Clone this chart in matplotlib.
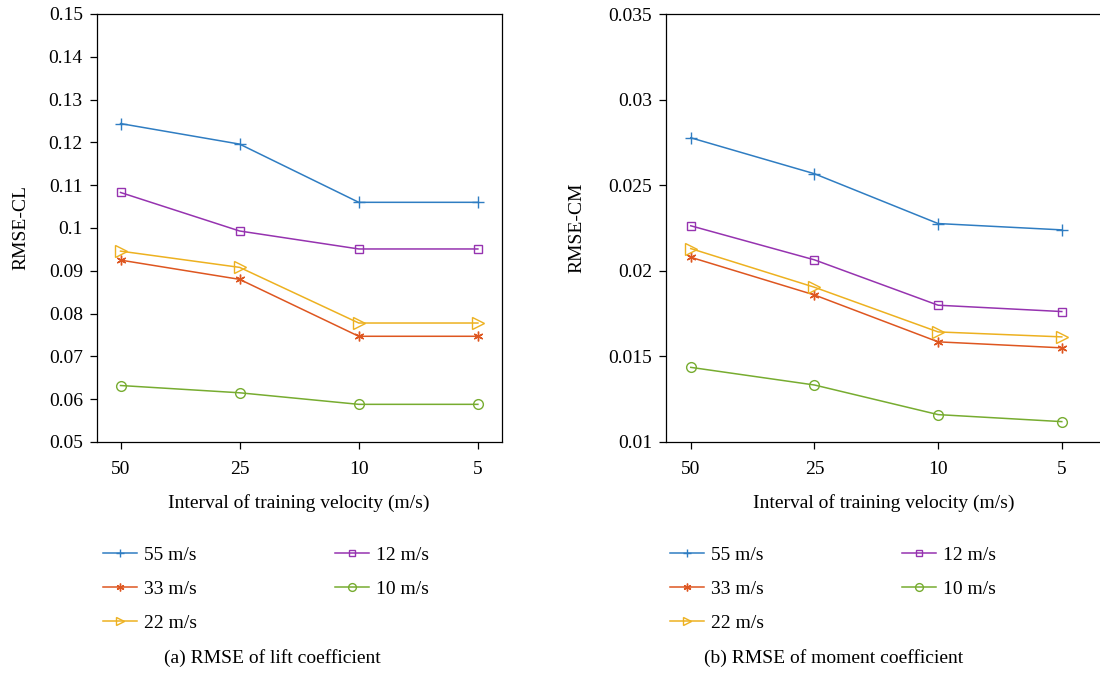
import numpy as np
import matplotlib
matplotlib.use('Agg')
import matplotlib.pyplot as plt

plt.rcParams['font.family'] = ['Liberation Serif', 'DejaVu Serif']
plt.rcParams['font.size'] = 14

# x categories (interval of training velocity, m/s)
intervals = ['50', '25', '10', '5']

# RMSE of lift coefficient
cl_55 = [0.1244, 0.1196, 0.1060, 0.1060]
cl_33 = [0.0925, 0.0880, 0.0747, 0.0747]
cl_22 = [0.0946, 0.0908, 0.0778, 0.0778]
cl_12 = [0.1083, 0.0993, 0.0951, 0.0951]
cl_10 = [0.0632, 0.0615, 0.0588, 0.0588]

# RMSE of moment coefficient
cm_55 = [0.02777, 0.02567, 0.02276, 0.02239]
cm_33 = [0.02079, 0.01859, 0.01585, 0.01550]
cm_22 = [0.02130, 0.01904, 0.01643, 0.01614]
cm_12 = [0.02263, 0.02064, 0.01799, 0.01762]
cm_10 = [0.01436, 0.01333, 0.01160, 0.01119]

labels = ['55 m/s', '33 m/s', '22 m/s', '12 m/s', '10 m/s']
colors = ['#2F7DC2', '#DE5620', '#EDB120', '#9633B0', '#77AC30']
markers = ['+', (6, 2, 0), '>', 's', 'o']
msizes = [8, 7, 8, 6, 7]

fig = plt.figure(figsize=(11, 6.74), dpi=100)
W, H = 1100, 674

def px_axes(x0, x1, top, bottom):
    return fig.add_axes([x0 / W, 1 - bottom / H, (x1 - x0) / W, (bottom - top) / H])

ax1 = px_axes(96.7, 501.7, 14, 442)
ax2 = px_axes(666, 1101, 14, 442)

x = np.arange(len(intervals))

def draw(ax, series, ylim, yticks, yticklabels, ylabel, xlim, ylabel_x):
    handles = []
    for s, lab, c, m, ms in zip(series, labels, colors, markers, msizes):
        h, = ax.plot(x, s, color=c, marker=m, markersize=ms, markerfacecolor='none',
                     markeredgecolor=c, markeredgewidth=1.0, linewidth=1.1, label=lab)
        handles.append(h)
    ax.set_xlim(*xlim)
    ax.set_ylim(*ylim)
    ax.set_xticks(x)
    ax.set_xticklabels(intervals)
    ax.set_yticks(yticks)
    ax.set_yticklabels(yticklabels)
    ax.tick_params(axis='y', direction='out', length=5, width=0.9, pad=5, right=False)
    ax.tick_params(axis='x', direction='out', length=5, width=0.9, pad=9, top=False)
    for sp in ax.spines.values():
        sp.set_linewidth(0.9)
    ax.set_xlabel('Interval of training velocity (m/s)', labelpad=11)
    ax.set_ylabel(ylabel)
    ax.yaxis.set_label_coords(ylabel_x, 0.5)
    return handles

h1 = draw(ax1, [cl_55, cl_33, cl_22, cl_12, cl_10], (0.05, 0.15),
          np.arange(0.05, 0.151, 0.01),
          ['0.05', '0.06', '0.07', '0.08', '0.09', '0.1', '0.11', '0.12', '0.13', '0.14', '0.15'],
          'RMSE-CL', (-0.2, 3.2), -0.167)
h2 = draw(ax2, [cm_55, cm_33, cm_22, cm_12, cm_10], (0.01, 0.035),
          np.arange(0.01, 0.0351, 0.005),
          ['0.01', '0.015', '0.02', '0.025', '0.03', '0.035'],
          'RMSE-CM', (-0.2, 3.317), -0.185)

leg_kw = dict(ncol=2, frameon=False, loc='upper left', handlelength=1.75,
              handletextpad=0.36, columnspacing=7.1, labelspacing=0.85,
              borderpad=0, borderaxespad=0, markerscale=0.8)
fig.legend(handles=h1, bbox_to_anchor=(103 / W, 1 - 546 / H), **leg_kw)
fig.legend(handles=h2, bbox_to_anchor=(670 / W, 1 - 546 / H), **leg_kw)

fig.text(272 / W, 1 - 658 / H, '(a) RMSE of lift coefficient', ha='center', va='center')
fig.text(834 / W, 1 - 658 / H, '(b) RMSE of moment coefficient', ha='center', va='center')

fig.savefig('out.png', dpi=100)
